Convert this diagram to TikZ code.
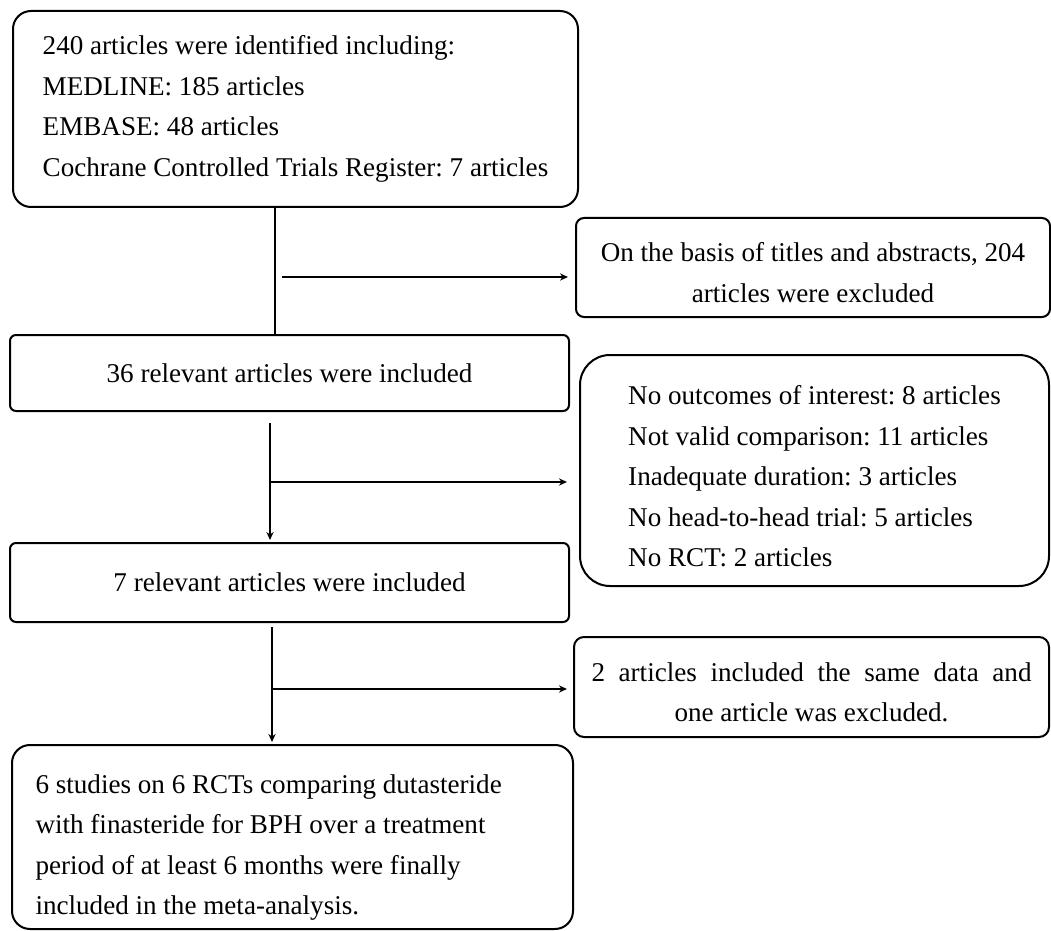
\documentclass[tikz,border=0pt]{standalone}
\usepackage{fontspec}
\setmainfont{Liberation Serif}
\usetikzlibrary{arrows.meta}
\frenchspacing

\begin{document}
\begin{tikzpicture}[x=0.5pt,y=-0.5pt,
  box/.style={draw,line width=1pt,inner sep=0pt,
    font=\fontsize{13.55}{20.25}\selectfont},
  link/.style={line width=0.8pt,>={Stealth[length=4pt,width=3.6pt]}}]
 \useasboundingbox (0,0) rectangle (1051,931);

 \node[box,rounded corners=9pt,minimum width=282.5pt,minimum height=98pt,
   align=left] (src) at (295.5,109)
   {240 articles were identified including:\\MEDLINE: 185 articles\\
    EMBASE: 48 articles\\Cochrane Controlled Trials Register: 7 articles}; %search
 \node[box,rounded corners=3pt,minimum width=279.5pt,minimum height=38pt]
   (scr) at (289.5,373) {36 relevant articles were included}; %screened
 \node[box,rounded corners=3pt,minimum width=279.5pt,minimum height=39.5pt]
   (full) at (289.5,582.5) {7 relevant articles were included}; %full text
 \node[box,rounded corners=9pt,minimum width=280.5pt,minimum height=92pt,
   text width=257pt,align=flush left] (incl) at (292.5,837)
   {\rule{0pt}{20pt}6 studies on 6 RCTs comparing dutasteride\\with finasteride for BPH over a treatment\\
    period of at least 6 months were finally\\included in the meta-analysis.}; %included

 \node[box,rounded corners=4pt,minimum width=237pt,minimum height=49.5pt,
   align=center] (exA) at (813,267.5)
   {\rule{0pt}{14.5pt}On the basis of titles and abstracts, 204\\articles were excluded}; %excluded 1
 \node[box,rounded corners=15pt,minimum width=234.5pt,minimum height=115.5pt,
   align=left] (exB) at (814.5,470.5)
   {\rule{0pt}{15.5pt}No outcomes of interest: 8 articles\\Not valid comparison: 11 articles\\
    Inadequate duration: 3 articles\\No head-to-head trial: 5 articles\\
    No RCT: 2 articles}; %excluded 2
 \node[box,rounded corners=5pt,minimum width=237.5pt,minimum height=50pt,
   align=center] (exC) at (811.5,687)
   {\hbox to 220pt{\rule{0pt}{14.5pt}2\hfil articles\hfil included\hfil the\hfil same\hfil data\hfil and}\\
    one article was excluded.}; %excluded 3

 \coordinate (t1) at (275,0); \coordinate (b1) at (282,277);
 \coordinate (t2) at (270,0); \coordinate (b2) at (270,482);
 \coordinate (t3) at (272,0); \coordinate (b3) at (272,689);

 \draw[link] (src.south -| t1) -- (scr.north -| t1); %trunk 1
 \draw[link,->,shorten >=3.5pt] (b1) -- (b1 -| exA.west);
 \draw[link,->,shorten <=5.5pt,shorten >=1pt] (scr.south -| t2) -- (full.north -| t2); %trunk 2
 \draw[link,->,shorten >=6pt] (b2) -- (b2 -| exB.west);
 \draw[link,->,shorten <=2pt,shorten >=1pt] (full.south -| t3) -- (incl.north -| t3); %trunk 3
 \draw[link,->,shorten >=3pt] (b3) -- (b3 -| exC.west);
\end{tikzpicture}
\end{document}
